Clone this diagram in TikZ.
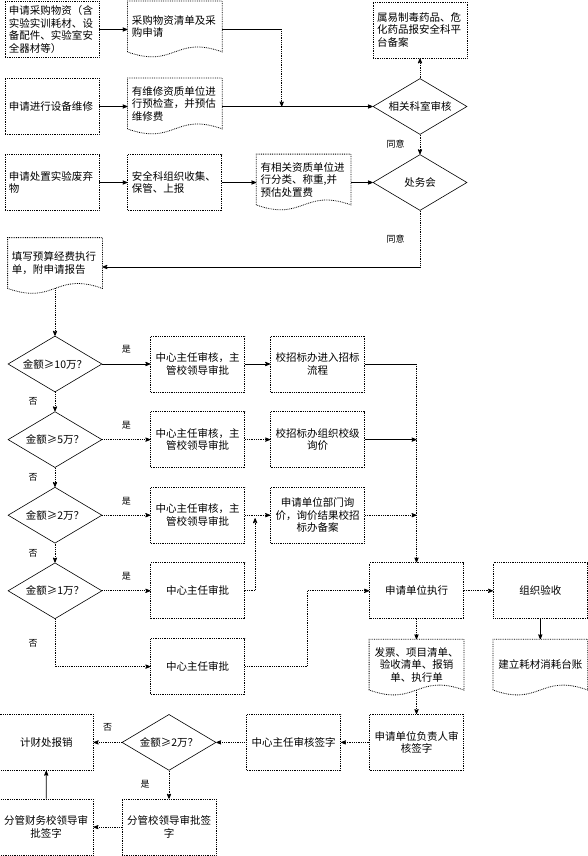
\documentclass[tikz,border=0pt]{standalone}
\usepackage{fontspec}
\setmainfont{Noto Sans CJK SC}
\usetikzlibrary{positioning,arrows,calc,shapes.geometric}

\tikzset{
  box/.style={draw,densely dotted,minimum width=94pt,minimum height=56pt,inner sep=4pt,align=center,font=\fontsize{10.5}{12.5}\selectfont},
  lbox/.style={box,align=left,text width=86pt},
  doc/.style={box,draw=none,minimum height=50pt},
  ldoc/.style={doc,align=left,text width=86pt},
  decide/.style={diamond,draw,solid,line width=0.6pt,aspect=1.68,inner sep=0pt,minimum width=94pt,minimum height=56pt,font=\fontsize{10.5}{12.5}\selectfont},
  lbl/.style={font=\fontsize{9}{10}\selectfont,inner sep=1pt},
  dline/.style={densely dotted}
}
% wavy outline of a document node
\newcommand{\docframe}[1]{%
  \draw[densely dotted] (#1.south west) -- (#1.north west) -- (#1.north east) -- (#1.south east)
    .. controls ($(#1.south)+(0,-17)$) and ($(#1.south)+(0,17)$) .. (#1.south west);}

\begin{document}
\begin{tikzpicture}[x=1pt,y=-1pt,>=stealth',line width=0.8pt,node distance=28pt]
\useasboundingbox (0,0) rectangle (588,856);

% three kinds of application
\node[lbox] (a1) at (52,29.5) {申请采购物资（含\\实验实训耗材、设\\备配件、实验室安\\全器材等）};
\node[ldoc,right=28pt of a1.north east,anchor=north west] (a2) {采购物资清单及采\\购申请};
\node[lbox] (b1) at (52,106.5) {申请进行设备维修};
\node[ldoc,right=28pt of b1.north east,anchor=north west] (b2) {有维修资质单位进\\行预检查，并预估\\维修费};
\node[lbox] (c1) at (52,182.5) {申请处置实验废弃\\物};
\node[lbox,right=of c1] (c2) {安全科组织收集、\\保管、上报};
\node[ldoc,right=34pt of c2.north east,anchor=north west] (c3) {有相关资质单位进\\行分类、称重,并\\预估处置费};
\docframe{a2} \docframe{b2} \docframe{c3}

\node[lbox] (t) at (420,30) {属易制毒药品、危\\化药品报安全科平\\台备案};
\node[decide] (d1) at (420,106.5) {相关科室审核};
\node[decide] (d2) at (420,182.5) {处务会};

\draw[->] (a1.east) -- (a1.east -| a2.west);
\coordinate (m1) at ($(d1.west)+(-91,0)$);
\draw (a1.east -| a2.east) -- (a1.east -| m1);
\draw[dline,->] (a1.east -| m1) -- (m1);
\draw[->] (b1) -- (b1 -| b2.west);
\draw[->] (b1 -| b2.east) -- (d1);
\draw[->] (c1) -- (c2);
\draw[->] (c2.east) -- (c2 -| c3.west);
\draw[->] (c2 -| c3.east) -- (d2);
\draw[dline,->] (d1) -- (t);
\draw[dline,->] (d1) -- node[lbl,left=14pt]{同意} (d2);

% budget form
\node[ldoc] (e) at (55,263) {填写预算经费执行\\单，附申请报告};
\docframe{e}
\coordinate (k1) at ($(d2.south |- e.east)+(0,4)$);
\draw[dline] (d2.south) -- node[lbl,left=14pt]{同意} (k1);
\draw[->] (k1) -- (k1 -| e.east);

% amount checks
\node[decide] (q1) at (55,364) {金额≥10万？};
\node[box,right=48pt of q1] (p1) {中心主任审核，主\\管校领导审批};
\node[box,right=25pt of p1] (r1) {校招标办进入招标\\流程};
\node[decide,below=19pt of q1] (q2) {金额≥5万？};
\node[box,right=48pt of q2] (p2) {中心主任审核，主\\管校领导审批};
\node[box,right=25pt of p2] (r2) {校招标办组织校级\\询价};
\node[decide,below=19pt of q2] (q3) {金额≥2万？};
\node[box,right=48pt of q3] (p3) {中心主任审核，主\\管校领导审批};
\node[box,right=25pt of p3] (r3) {申请单位部门询\\价，询价结果校招\\标办备案};
\node[decide,below=19pt of q3] (q4) {金额≥1万？};
\node[box,right=48pt of q4] (p4) {中心主任审批};
\node[box,below=19pt of p4] (p5) {中心主任审批};

% execution and reimbursement
\node[box,right=124pt of p4] (x) {申请单位执行};
\node[box,right=29pt of x] (chk) {组织验收};
\node[doc,below=20pt of chk] (z) {建立耗材消耗台账};
\node[doc,below=20pt of x] (w) {发票、项目清单、\\验收清单、报销\\单、执行单};
\docframe{z} \docframe{w}
\node[box,below=24pt of w] (v) {申请单位负责人审\\核签字};
\node[box,left=28pt of v] (u) {中心主任审核签字};
\node[decide,left=30pt of u] (q5) {金额≥2万？};
\node[box,left=28pt of q5] (s1) {计财处报销};
\node[box,below=28pt of q5] (s3) {分管校领导审批签\\字};
\node[box,left=28pt of s3] (s2) {分管财务校领导审\\批签字};

\draw[dline,->] (e) -- (q1);
\draw[->] (q1) -- node[lbl,above=9pt]{是} (p1);
\draw[->] (p1) -- (r1);
\draw (r1) -- (r1 -| x);
\draw[dline,->] (r1 -| x) -- (x);
\draw[dline,->] (q1) -- node[lbl,left=16pt]{否} (q2);
\draw[dline,->] (q2) -- node[lbl,above=9pt]{是} (p2);
\draw[dline,->] (p2) -- (r2);
\draw[->] (r2) -- (r2 -| x);
\draw[dline,->] (q2) -- node[lbl,left=16pt]{否} (q3);
\draw[dline,->] (q3) -- node[lbl,above=9pt]{是} (p3);
\draw[dline,->] (p3) -- (r3);
\draw[dline,->] (r3) -- (r3 -| x);
\draw[dline,->] (q3) -- node[lbl,left=16pt]{否} (q4);
\draw[dline,->] (q4) -- node[lbl,above=9pt]{是} (p4);
\draw[dline,->] (p4) -| ($(p3.east)!0.4!(r3.west)+(0,3)$);
\draw[dline,->] (q4) |- node[lbl,pos=0.25,left=16pt]{否} (p5);
\draw[dline,->] (p5.east) -- ++(62,0) |- (x);

\draw[dline,->] (x) -- (chk);
\draw[->] (chk) -- (z);
\draw[dline,->] (x) -- (w);
\draw[dline,->] (w) -- (v);
\draw[dline,->] (v) -- (u);
\draw[dline,->] (u) -- (q5);
\draw[dline,->] (q5) -- node[lbl,above=10pt]{否} (s1);
\draw[dline,->] (q5) -- node[lbl,left=18pt]{是} (s3);
\draw[dline,->] (s3) -- (s2);
\draw[->] (s2) -- (s1);
\end{tikzpicture}
\end{document}
